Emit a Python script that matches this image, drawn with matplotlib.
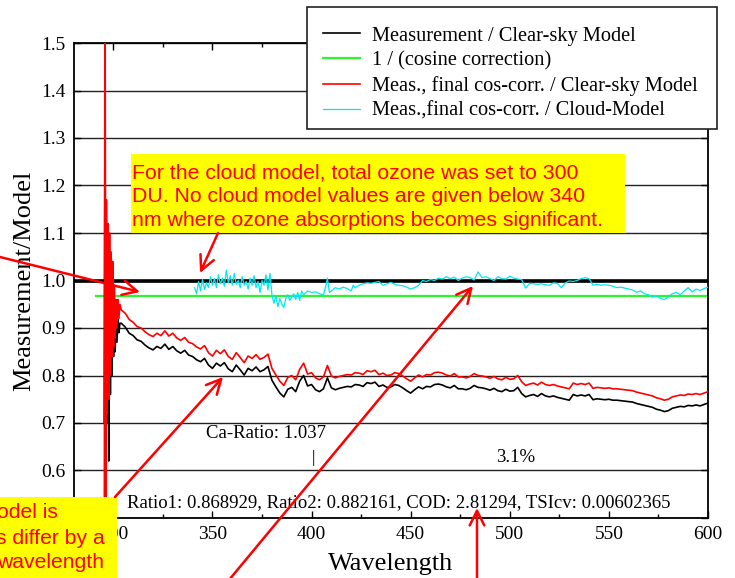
import numpy as np
import matplotlib
matplotlib.use("Agg")
import matplotlib.pyplot as plt
from matplotlib.patches import Rectangle, FancyArrowPatch
from matplotlib.ticker import MultipleLocator, FormatStrFormatter

plt.rcParams['font.family'] = ['Liberation Serif', 'DejaVu Serif']

# ---------------- data ----------------
spike_wl = [295.4, 295.8, 296.2, 296.5, 296.9, 297.3, 297.7, 298.1, 298.5, 298.9,
            299.3, 299.7, 300.1, 300.5, 300.9, 301.3, 301.8, 302.3, 302.8, 303.3]
spike_black = [0.70, 1.40, 0.50, 1.10, 0.70, 1.05, 0.62, 1.00, 0.76, 0.97,
               0.80, 0.95, 0.84, 0.93, 0.85, 0.92, 0.87, 0.92, 0.89, 0.91]
spike_red = [0.30, 1.80, 0.45, 1.17, 0.72, 1.12, 0.75, 1.10, 0.80, 1.06,
             0.84, 1.04, 0.86, 0.99, 0.88, 0.96, 0.90, 0.96, 0.92, 0.95]

main_wl = list(range(304, 601, 2))
main_black = [
    0.910, 0.902, 0.889, 0.884, 0.875, 0.872, 0.864, 0.858, 0.854, 0.861,
    0.857, 0.866, 0.855, 0.861, 0.852, 0.847, 0.853, 0.843, 0.840, 0.833,
    0.829, 0.836, 0.822, 0.815, 0.826, 0.820, 0.827, 0.814, 0.808, 0.822,
    0.812, 0.801, 0.815, 0.810, 0.818, 0.808, 0.812, 0.819, 0.790, 0.776,
    0.763, 0.755, 0.771, 0.775, 0.766, 0.788, 0.800, 0.778, 0.781, 0.770,
    0.766, 0.772, 0.795, 0.774, 0.770, 0.773, 0.775, 0.777, 0.776, 0.781,
    0.780, 0.777, 0.785, 0.783, 0.786, 0.777, 0.780, 0.775, 0.776, 0.781,
    0.779, 0.774, 0.768, 0.763, 0.770, 0.776, 0.772, 0.777, 0.776, 0.781,
    0.782, 0.780, 0.776, 0.774, 0.779, 0.772, 0.772, 0.770, 0.773, 0.779,
    0.775, 0.774, 0.772, 0.769, 0.773, 0.768, 0.766, 0.771, 0.767, 0.768,
    0.775, 0.762, 0.755, 0.758, 0.760, 0.756, 0.762, 0.757, 0.755, 0.757,
    0.754, 0.752, 0.750, 0.748, 0.760, 0.757, 0.759, 0.757, 0.760, 0.749,
    0.751, 0.750, 0.749, 0.750, 0.748, 0.748, 0.747, 0.746, 0.745, 0.744,
    0.741, 0.739, 0.737, 0.735, 0.733, 0.729, 0.727, 0.724, 0.726, 0.731,
    0.733, 0.735, 0.734, 0.737, 0.736, 0.738, 0.736, 0.739, 0.742]
main_red = [
    0.938, 0.931, 0.918, 0.912, 0.903, 0.900, 0.892, 0.886, 0.882, 0.889,
    0.884, 0.894, 0.883, 0.889, 0.879, 0.874, 0.880, 0.870, 0.867, 0.860,
    0.856, 0.863, 0.848, 0.841, 0.853, 0.846, 0.854, 0.840, 0.834, 0.848,
    0.838, 0.827, 0.841, 0.836, 0.844, 0.834, 0.838, 0.845, 0.815, 0.801,
    0.788, 0.779, 0.796, 0.800, 0.791, 0.813, 0.826, 0.803, 0.806, 0.795,
    0.791, 0.797, 0.821, 0.799, 0.795, 0.798, 0.800, 0.802, 0.801, 0.806,
    0.805, 0.802, 0.810, 0.808, 0.811, 0.802, 0.805, 0.800, 0.801, 0.806,
    0.804, 0.799, 0.793, 0.788, 0.795, 0.801, 0.797, 0.802, 0.801, 0.806,
    0.807, 0.805, 0.801, 0.799, 0.804, 0.797, 0.797, 0.795, 0.798, 0.804,
    0.800, 0.799, 0.797, 0.794, 0.798, 0.793, 0.791, 0.796, 0.792, 0.793,
    0.800, 0.787, 0.779, 0.782, 0.784, 0.780, 0.786, 0.781, 0.779, 0.781,
    0.778, 0.776, 0.774, 0.772, 0.784, 0.781, 0.783, 0.781, 0.784, 0.773,
    0.775, 0.774, 0.773, 0.774, 0.772, 0.772, 0.771, 0.770, 0.769, 0.768,
    0.765, 0.763, 0.761, 0.759, 0.757, 0.753, 0.751, 0.748, 0.750, 0.755,
    0.757, 0.759, 0.758, 0.761, 0.760, 0.762, 0.760, 0.763, 0.766]

meas_wl = spike_wl + main_wl
meas_black = spike_black + main_black
meas_red = spike_red + main_red

cloud_wl = [341, 342, 343, 344, 345, 346, 347, 348, 349, 350, 351, 352, 353, 354,
            355, 356, 357, 358, 359, 360, 361, 362, 363, 364, 365, 366, 367, 368,
            369, 370, 371, 372, 373, 374, 375, 376, 377, 378, 379, 380, 381, 382,
            383, 384, 385, 386, 387, 388, 389, 390, 391, 392, 393, 394, 395, 396,
            398, 400, 402, 404, 406, 407, 408, 409, 410, 412, 414, 416, 418, 420,
            421, 422, 424, 426, 428, 430, 432, 434, 436, 438, 440, 442, 444, 446,
            448, 450, 452, 454, 456, 458, 460, 462, 464, 466, 468, 470, 472, 474,
            476, 478, 480, 482, 484, 486, 488, 490, 492, 494, 496, 498, 500, 502,
            504, 506, 508, 510, 512, 514, 516, 518, 520, 522, 524, 526, 528, 530,
            532, 534, 536, 538, 540, 542, 544, 546, 548, 550, 552, 554, 556, 558,
            560, 562, 564, 566, 568, 570, 572, 574, 576, 578, 580, 582, 584, 586,
            588, 590, 592, 594, 596, 598, 600]
cloud_ratio = [0.985, 0.972, 0.998, 0.978, 1.002, 0.981, 0.995, 0.985, 1.008, 0.990,
               1.004, 0.985, 1.012, 0.993, 1.005, 0.988, 1.022, 0.995, 1.010, 0.990,
               1.015, 0.992, 1.000, 0.985, 1.008, 0.990, 0.998, 0.982, 1.005, 0.990,
               1.010, 0.985, 0.998, 0.975, 1.000, 0.990, 1.012, 0.980, 1.015, 0.970,
               0.952, 0.968, 0.945, 0.962, 0.950, 0.943, 0.962, 0.970, 0.958, 0.965,
               0.972, 0.960, 0.975, 0.958, 0.978, 0.970, 0.978, 0.975, 0.976, 0.972,
               0.970, 0.985, 1.005, 0.975, 0.978, 0.985, 0.982, 0.986, 0.983, 0.978,
               0.990, 0.985, 0.990, 0.993, 0.995, 0.994, 0.996, 0.998, 0.990, 0.993,
               0.996, 0.992, 0.990, 0.989, 0.986, 0.982, 0.985, 0.990, 1.000, 0.998,
               1.002, 1.000, 1.005, 1.003, 1.008, 1.004, 1.007, 1.000, 1.005, 1.008,
               1.006, 1.001, 1.018, 1.006, 1.008, 1.004, 1.000, 1.008, 1.004, 1.003,
               1.009, 1.005, 1.003, 1.002, 0.984, 0.994, 0.993, 0.992, 0.993, 0.991,
               0.990, 0.995, 0.994, 0.985, 0.995, 0.999, 0.998, 1.000, 1.004, 1.006,
               1.004, 0.990, 0.992, 0.990, 0.991, 0.990, 0.988, 0.985, 0.986, 0.984,
               0.982, 0.980, 0.975, 0.978, 0.972, 0.970, 0.965, 0.968, 0.962, 0.960,
               0.966, 0.972, 0.975, 0.970, 0.978, 0.985, 0.976, 0.982, 0.979, 0.983,
               0.986]

cos_wl = [291, 600]
cos_corr = [0.968, 0.968]
unity_wl = [280, 600]
unity = [1.0, 1.0]

legend_labels = ["Measurement / Clear-sky Model", "1 / (cosine correction)",
                 "Meas., final cos-corr. / Clear-sky Model",
                 "Meas.,final cos-corr. / Cloud-Model"]
ca_text = "Ca-Ratio: 1.037"
pct_text = "3.1%"
ratio_text = "Ratio1: 0.868929, Ratio2: 0.882161, COD: 2.81294, TSIcv: 0.00602365"
note_top = ("For the cloud model, total ozone was set to 300\n"
            "DU. No cloud model values are given below 340\n"
            "nm where ozone absorptions becomes significant.")
note_left = ["odel is", "s differ by a", "wavelength"]

# ---------------- figure ----------------
W, H = 735, 578
fig = plt.figure(figsize=(W / 100, H / 100), dpi=100)
ax = fig.add_axes([73.7 / W, 1 - 518 / H, (708 - 73.7) / W, (518 - 43) / H])

def fp(x, y):
    return (x / W, 1 - y / H)

ax.set_xlim(280, 600)
ax.set_ylim(0.5, 1.5)
ax.xaxis.set_major_locator(MultipleLocator(50))
ax.xaxis.set_minor_locator(MultipleLocator(25))
ax.yaxis.set_major_locator(MultipleLocator(0.1))
ax.yaxis.set_major_formatter(FormatStrFormatter('%.1f'))
ax.tick_params(axis='both', which='both', direction='in', top=True, right=True,
               labelsize=14, pad=6)
ax.tick_params(which='major', length=5, width=1)
ax.tick_params(which='minor', length=3, width=1)
ax.grid(axis='y', color='#222222', lw=1.0)
ax.set_axisbelow(True)
for s in ax.spines.values():
    s.set_linewidth(1.3)

ax.plot(unity_wl, unity, color='black', lw=2.6, zorder=2)
ax.plot(cos_wl, cos_corr, color='#2cf52c', lw=1.6, zorder=2, label=legend_labels[1])
ax.plot(meas_wl, meas_black, color='black', lw=1.2, zorder=3, label=legend_labels[0])
ax.plot(meas_wl, meas_red, color='#ff0000', lw=1.2, zorder=4, label=legend_labels[2])
ax.plot(cloud_wl, cloud_ratio, color='#00e8f0', lw=0.9, zorder=5, label=legend_labels[3])

ax.set_xlabel("Wavelength", fontsize=19, labelpad=7)
ax.set_ylabel("Measurement/Model", fontsize=19, labelpad=4)

ax.text(346.8, 0.677, ca_text, fontsize=13.5, va='center', ha='left')
ax.text(400.7, 0.626, "|", fontsize=12, va='center', ha='center')
ax.text(502.9, 0.628, pct_text, fontsize=13.5, va='center', ha='center')
ax.text(306.9, 0.532, ratio_text, fontsize=13.5, va='center', ha='left')

# legend: frame drawn as a figure rectangle, entries as a frameless figure legend
lx0, ly0 = fp(307, 129)
lx1, ly1 = fp(717, 7)
fig.add_artist(Rectangle((lx0, ly0), lx1 - lx0, ly1 - ly0, transform=fig.transFigure,
                         facecolor='white', edgecolor='#222222', lw=1.2, zorder=10))
h = ax.get_lines()
handles = [h[2], h[1], h[3], h[4]]
leg = fig.legend(handles, legend_labels, loc='upper left',
                 bbox_to_anchor=fp(307, 10), bbox_transform=fig.transFigure,
                 fontsize=14.7, frameon=False,
                 borderpad=0.8, labelspacing=0.27, handlelength=1.8,
                 handletextpad=0.58, borderaxespad=0)
leg.set_zorder(11)

# yellow note boxes
x0, y0 = fp(131, 233)
x1, y1 = fp(625, 154)
fig.add_artist(Rectangle((x0, y0), x1 - x0, y1 - y0, transform=fig.transFigure,
                         facecolor='#ffff00', edgecolor='none', zorder=3))
fig.text(*fp(131.5, 196.5), note_top, fontsize=15.3, color='#ff0000',
         family=['Liberation Sans', 'DejaVu Sans'], va='center', ha='left',
         linespacing=1.3, zorder=4)

x0, y0 = fp(0, 578)
x1, y1 = fp(117, 497)
fig.add_artist(Rectangle((x0, y0), x1 - x0, y1 - y0, transform=fig.transFigure,
                         facecolor='#ffff00', edgecolor='none', zorder=3))
for txt, xe, yc in zip(note_left, [58, 105, 104], [513, 538, 563]):
    fig.text(*fp(xe, yc), txt, fontsize=15.2, color='#ff0000',
             family=['Liberation Sans', 'DejaVu Sans'], va='center', ha='right',
             zorder=4)

# red arrows
arrows = [((0, 257), (140, 292)), ((218, 233), (200, 273)), ((115, 497), (223, 377)),
          ((229, 580), (473, 286)), ((477, 580), (477, 508))]
for a, b in arrows:
    fig.add_artist(FancyArrowPatch(fp(*a), fp(*b), transform=fig.transFigure,
                                   arrowstyle='->,head_length=0.7,head_width=0.35',
                                   mutation_scale=15, color='#ff0000', lw=1.8,
                                   shrinkA=0, shrinkB=0, zorder=6))

fig.savefig("out.png", dpi=100)
